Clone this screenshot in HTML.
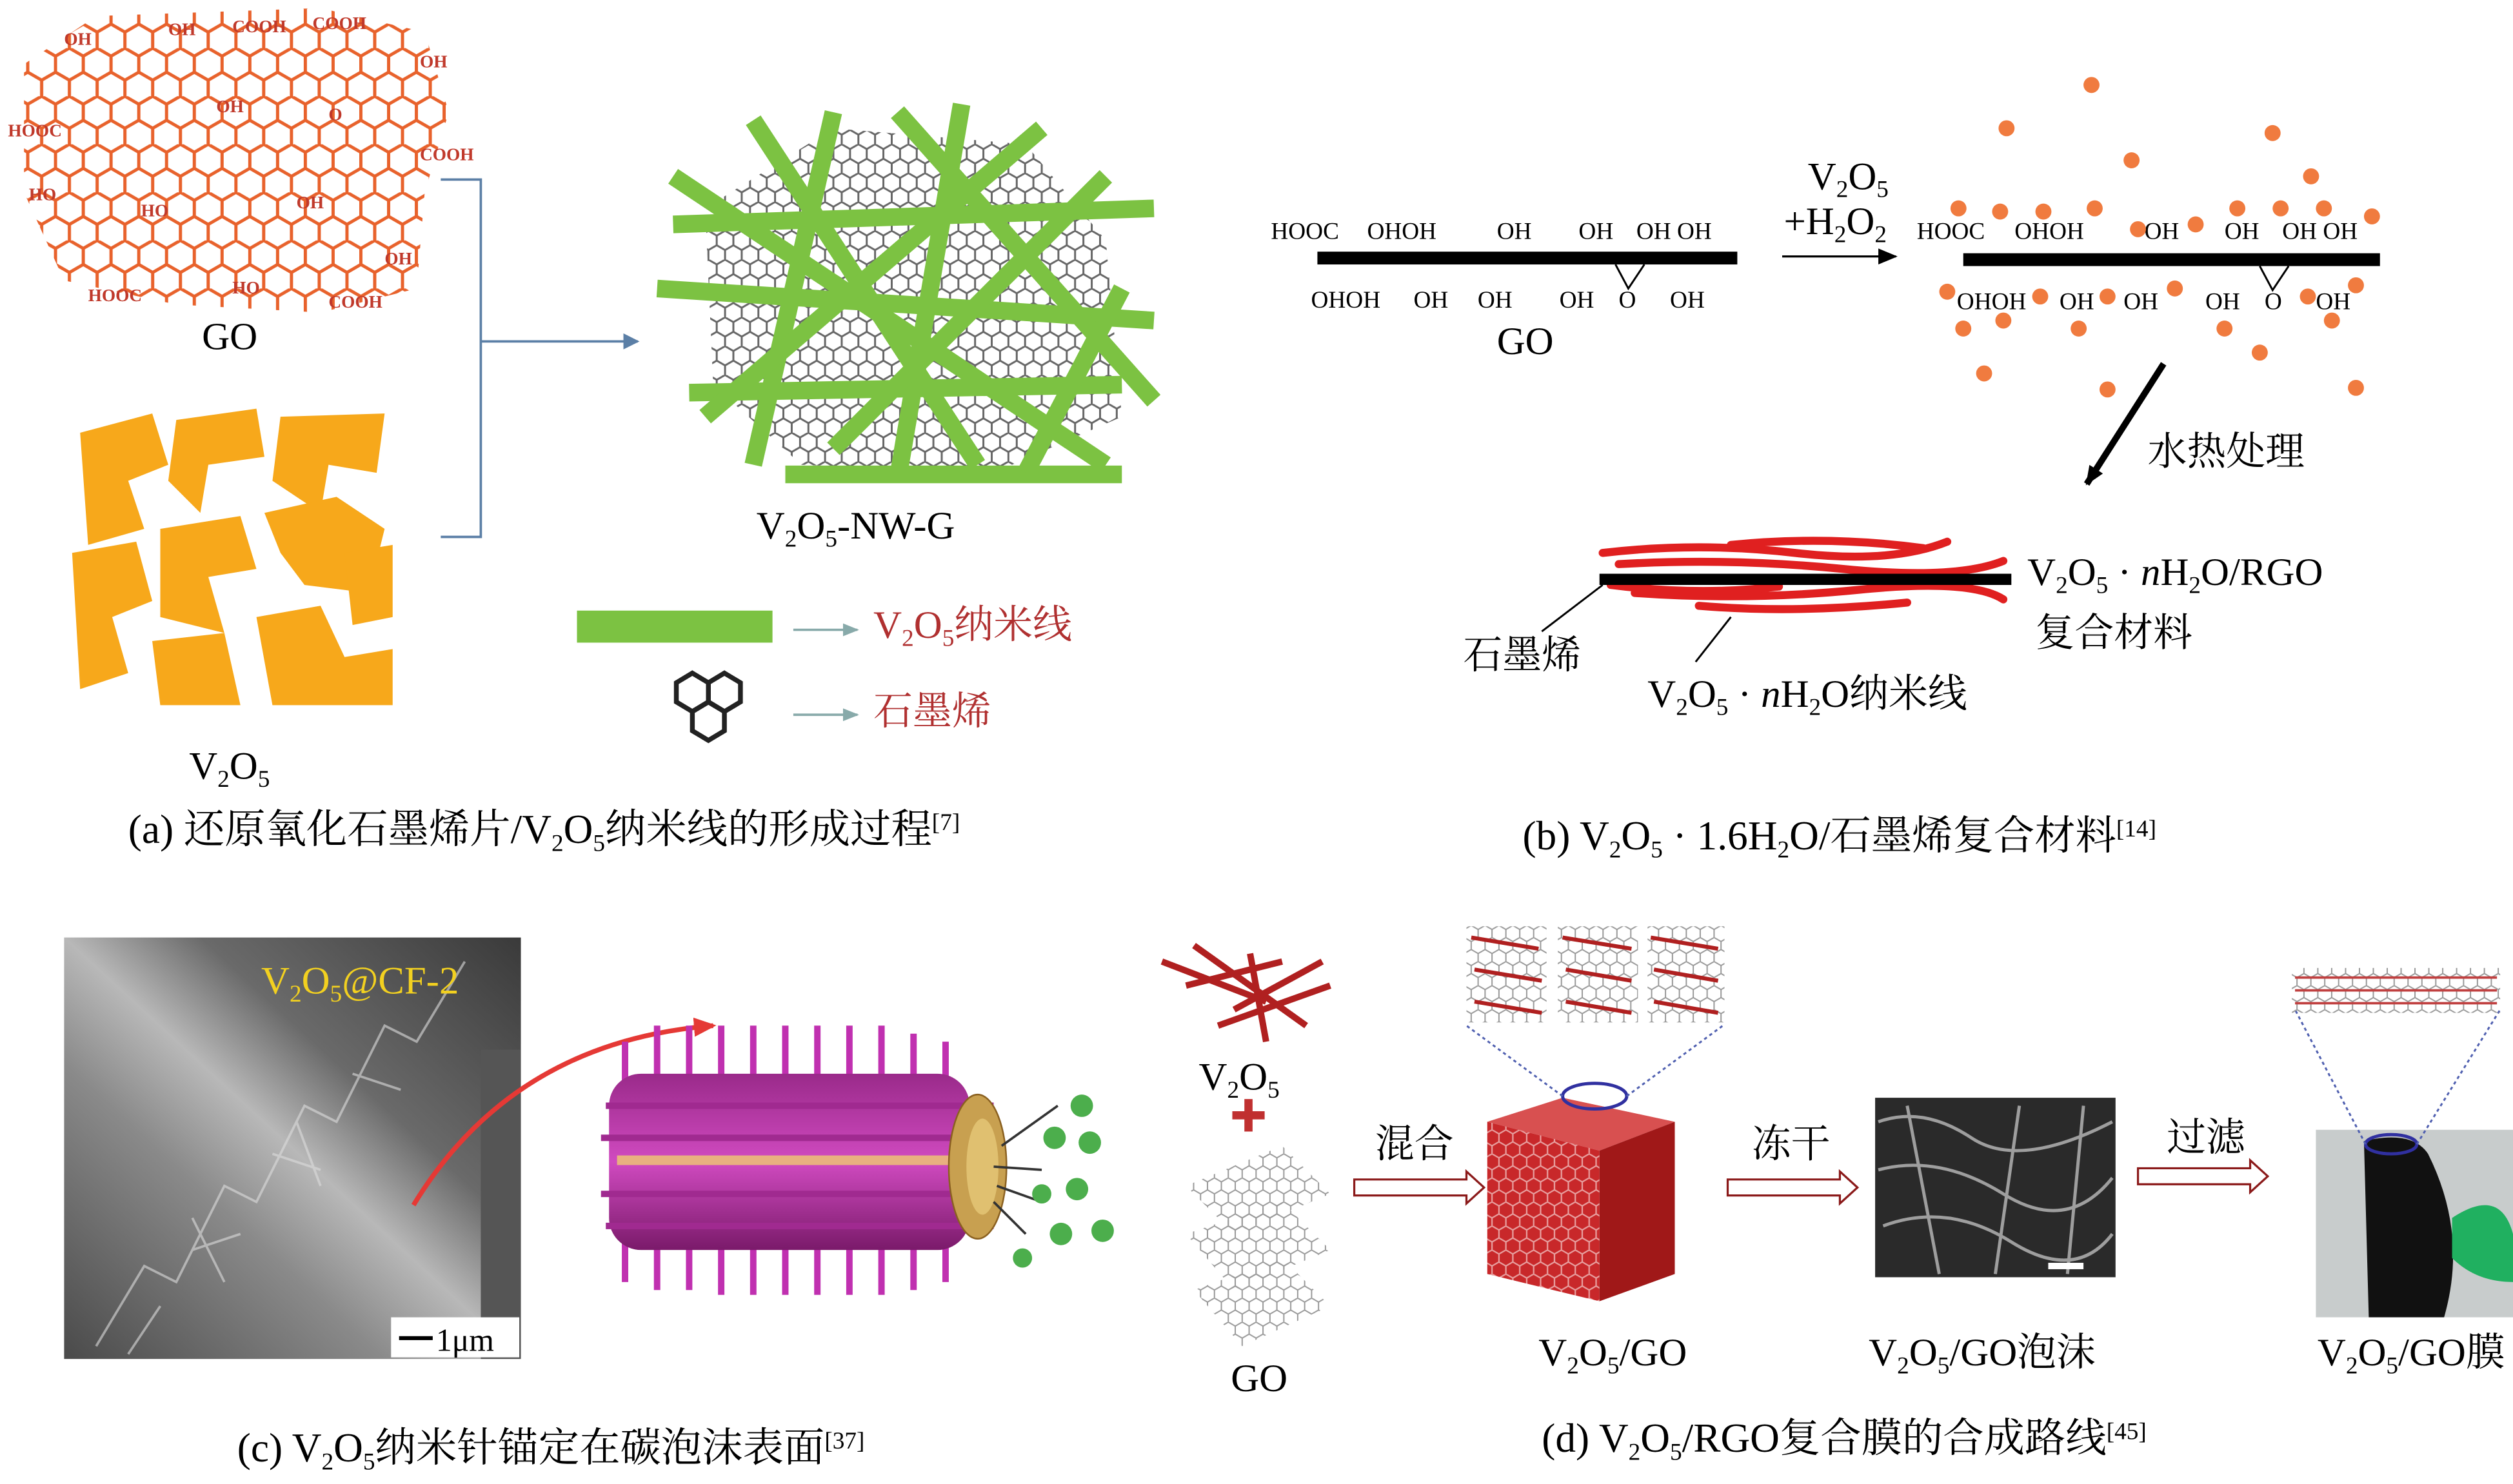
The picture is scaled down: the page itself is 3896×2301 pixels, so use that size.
<!DOCTYPE html>
<html><head><meta charset="utf-8">
<style>
html,body{margin:0;padding:0;background:#fff;}
svg{display:block;}
text{font-family:"Liberation Serif","Noto Serif CJK SC",serif;}
</style></head>
<body>
<svg width="3896" height="2301" viewBox="0 0 1568 926" xmlns="http://www.w3.org/2000/svg">
<defs>
 <pattern id="hexO" width="17.32" height="30" patternUnits="userSpaceOnUse">
  <path d="M8.66 0 L17.32 5 L17.32 15 L8.66 20 L0 15 L0 5 Z M8.66 20 L8.66 30" fill="none" stroke="#e8622c" stroke-width="2"/>
 </pattern>
 <pattern id="hexG" width="10.4" height="18" patternUnits="userSpaceOnUse">
  <path d="M5.2 0 L10.4 3 L10.4 9 L5.2 12 L0 9 L0 3 Z M5.2 12 L5.2 18" fill="none" stroke="#555" stroke-width="1.2"/>
 </pattern>
 <pattern id="hexL" width="8.66" height="15" patternUnits="userSpaceOnUse">
  <path d="M4.33 0 L8.66 2.5 L8.66 7.5 L4.33 10 L0 7.5 L0 2.5 Z M4.33 10 L4.33 15" fill="none" stroke="#999" stroke-width="0.8"/>
 </pattern>
 <pattern id="hexR" width="8.66" height="15" patternUnits="userSpaceOnUse">
  <rect width="8.66" height="15" fill="#c8282a"/>
  <path d="M4.33 0 L8.66 2.5 L8.66 7.5 L4.33 10 L0 7.5 L0 2.5 Z M4.33 10 L4.33 15" fill="none" stroke="#e8a0a0" stroke-width="0.9"/>
 </pattern>
 <linearGradient id="sem1" x1="0" y1="1" x2="1" y2="0">
  <stop offset="0" stop-color="#4a4a4a"/><stop offset="0.35" stop-color="#8a8a8a"/><stop offset="0.5" stop-color="#b8b8b8"/><stop offset="0.65" stop-color="#6a6a6a"/><stop offset="1" stop-color="#3a3a3a"/>
 </linearGradient>
 <linearGradient id="cyl" x1="0" y1="0" x2="0" y2="1">
  <stop offset="0" stop-color="#9a2a8a"/><stop offset="0.5" stop-color="#d04ac0"/><stop offset="1" stop-color="#7a1a6a"/>
 </linearGradient>
 <marker id="ah" markerWidth="10" markerHeight="10" refX="9" refY="5" orient="auto" markerUnits="userSpaceOnUse">
  <path d="M0 0 L10 5 L0 10 Z" fill="#5b7fa6"/></marker>
 <marker id="ahk" markerWidth="12" markerHeight="10" refX="11" refY="5" orient="auto" markerUnits="userSpaceOnUse">
  <path d="M0 0 L12 5 L0 10 Z" fill="#000"/></marker>
 <marker id="ahr" markerWidth="14" markerHeight="12" refX="12" refY="6" orient="auto" markerUnits="userSpaceOnUse">
  <path d="M0 0 L14 6 L0 12 Z" fill="#e53935"/></marker>
 <marker id="ahg" markerWidth="10" markerHeight="8" refX="9" refY="4" orient="auto" markerUnits="userSpaceOnUse">
  <path d="M0 0 L10 4 L0 8 Z" fill="#8aa"/></marker>
</defs>

<polygon points="15,40 60,10 200,5 265,20 280,70 265,120 260,180 200,195 110,190 40,175 15,120" fill="url(#hexO)"/>
<g font-family="Liberation Sans" font-size="11" fill="#c0392b" font-weight="bold">
<text x="40" y="28">OH</text><text x="105" y="22">OH</text><text x="145" y="20">COOH</text><text x="195" y="18">COOH</text>
<text x="262" y="42">OH</text><text x="5" y="85">HOOC</text><text x="262" y="100">COOH</text><text x="18" y="125">HO</text>
<text x="88" y="135">HO</text><text x="185" y="130">OH</text><text x="240" y="165">OH</text><text x="55" y="188">HOOC</text>
<text x="145" y="183">HO</text><text x="205" y="192">COOH</text><text x="135" y="70">OH</text><text x="205" y="75">O</text>
</g>
<text x="126" y="218" font-size="24">GO</text>

<g fill="#f7a81b">
<path d="M50 270 L95 258 L105 290 L80 300 L90 330 L55 340 Z"/>
<path d="M110 262 L160 255 L165 285 L130 290 L125 320 L105 300 Z"/>
<path d="M175 260 L240 258 L235 295 L205 290 L200 320 L170 300 Z"/>
<path d="M45 345 L85 338 L95 375 L70 385 L80 420 L50 430 Z"/>
<path d="M100 330 L150 322 L160 355 L130 360 L140 395 L100 385 Z"/>
<path d="M165 320 L210 310 L240 330 L230 370 L190 365 L175 345 Z"/>
<path d="M95 400 L140 395 L150 440 L100 440 Z"/>
<path d="M160 385 L200 378 L215 410 L245 405 L245 440 L170 440 Z"/>
<path d="M215 345 L245 340 L245 385 L220 390 Z"/>
</g>
<text x="118" y="486" font-size="24.5">V<tspan font-size="15" dy="5">2</tspan><tspan dy="-5">O</tspan><tspan font-size="15" dy="5">5</tspan></text>

<path d="M275 112 L300 112 L300 335 L275 335 M300 213 L398 213" stroke="#5b7fa6" stroke-width="1.5" fill="none" marker-end="url(#ah)"/>

<polygon points="440,130 520,80 640,90 690,150 700,260 620,295 500,290 445,240" fill="url(#hexG)" opacity="0.9"/>
<g stroke="#7cc242" stroke-width="11" stroke-linecap="butt">
<line x1="420" y1="110" x2="690" y2="290"/><line x1="410" y1="180" x2="720" y2="200"/><line x1="430" y1="245" x2="700" y2="240"/>
<line x1="470" y1="75" x2="610" y2="290"/><line x1="520" y1="70" x2="470" y2="290"/><line x1="600" y1="65" x2="560" y2="300"/>
<line x1="650" y1="80" x2="440" y2="260"/><line x1="690" y1="110" x2="520" y2="280"/><line x1="420" y1="140" x2="720" y2="130"/>
<line x1="490" y1="296" x2="700" y2="296"/><line x1="700" y1="180" x2="640" y2="295"/><line x1="560" y1="70" x2="720" y2="250"/>
</g>
<text x="472" y="336" font-size="24.5">V<tspan font-size="15" dy="5">2</tspan><tspan dy="-5">O</tspan><tspan font-size="15" dy="5">5</tspan><tspan dy="-5">-NW-G</tspan></text>

<rect x="360" y="381" width="122" height="20" fill="#7cc242"/>
<line x1="495" y1="393" x2="535" y2="393" stroke="#8aa" stroke-width="1.5" marker-end="url(#ahg)"/>
<text x="545" y="398" font-size="24.5" fill="#b03030">V<tspan font-size="15" dy="5">2</tspan><tspan dy="-5">O</tspan><tspan font-size="15" dy="5">5</tspan><tspan dy="-5">纳米线</tspan></text>
<g fill="none" stroke="#222" stroke-width="3">
<path d="M432 420 L442 426 L442 438 L432 444 L422 438 L422 426 Z"/>
<path d="M452 420 L462 426 L462 438 L452 444 L442 438 L442 426 Z"/>
<path d="M442 438 L452 444 L452 456 L442 462 L432 456 L432 444 Z"/>
</g>
<line x1="495" y1="446" x2="535" y2="446" stroke="#8aa" stroke-width="1.5" marker-end="url(#ahg)"/>
<text x="545" y="452" font-size="24.5" fill="#b03030">石墨烯</text>
<text x="80" y="526" font-size="25.5">(a) 还原氧化石墨烯片/V<tspan font-size="15" dy="5">2</tspan><tspan dy="-5">O</tspan><tspan font-size="15" dy="5">5</tspan><tspan dy="-5">纳米线的形成过程</tspan><tspan font-size="15" dy="-8">[7]</tspan></text>

<rect x="822" y="157" width="262" height="8" fill="#000"/>
<g font-size="15">
<text x="793" y="149">HOOC</text><text x="853" y="149">OHOH</text><text x="934" y="149">OH</text><text x="985" y="149">OH</text><text x="1021" y="149">OH OH</text>
<text x="818" y="192">OHOH</text><text x="882" y="192">OH</text><text x="922" y="192">OH</text><text x="973" y="192">OH</text><text x="1010" y="192">O</text><text x="1042" y="192">OH</text>
</g>
<path d="M1008 165 L1016 180 L1026 165" stroke="#000" fill="none" stroke-width="1.2"/>
<text x="934" y="221" font-size="24.5">GO</text>
<line x1="1112" y1="160" x2="1183" y2="160" stroke="#000" stroke-width="1.3" marker-end="url(#ahk)"/>
<text x="1128" y="118" font-size="24.5">V<tspan font-size="15" dy="5">2</tspan><tspan dy="-5">O</tspan><tspan font-size="15" dy="5">5</tspan></text>
<text x="1113" y="146" font-size="24.5">+H<tspan font-size="15" dy="5">2</tspan><tspan dy="-5">O</tspan><tspan font-size="15" dy="5">2</tspan></text>

<rect x="1225" y="158" width="260" height="8" fill="#000"/>
<g font-size="15">
<text x="1196" y="149">HOOC</text><text x="1257" y="149">OHOH</text><text x="1338" y="149">OH</text><text x="1388" y="149">OH</text><text x="1424" y="149">OH OH</text>
<text x="1221" y="193">OHOH</text><text x="1285" y="193">OH</text><text x="1325" y="193">OH</text><text x="1376" y="193">OH</text><text x="1413" y="193">O</text><text x="1445" y="193">OH</text>
</g>
<path d="M1410 166 L1418 181 L1428 166" stroke="#000" fill="none" stroke-width="1.2"/>
<g fill="#f07b3f">
<circle cx="1305" cy="53" r="5"/><circle cx="1252" cy="80" r="5"/><circle cx="1330" cy="100" r="5"/><circle cx="1418" cy="83" r="5"/><circle cx="1442" cy="110" r="5"/>
<circle cx="1222" cy="130" r="5"/><circle cx="1248" cy="132" r="5"/><circle cx="1275" cy="132" r="5"/><circle cx="1307" cy="130" r="5"/><circle cx="1334" cy="143" r="5"/>
<circle cx="1396" cy="130" r="5"/><circle cx="1423" cy="130" r="5"/><circle cx="1450" cy="130" r="5"/><circle cx="1480" cy="135" r="5"/><circle cx="1370" cy="140" r="5"/>
<circle cx="1215" cy="182" r="5"/><circle cx="1273" cy="185" r="5"/><circle cx="1315" cy="185" r="5"/><circle cx="1357" cy="180" r="5"/><circle cx="1440" cy="185" r="5"/>
<circle cx="1470" cy="178" r="5"/><circle cx="1225" cy="205" r="5"/><circle cx="1250" cy="200" r="5"/><circle cx="1297" cy="205" r="5"/><circle cx="1388" cy="205" r="5"/>
<circle cx="1455" cy="200" r="5"/><circle cx="1238" cy="233" r="5"/><circle cx="1315" cy="243" r="5"/><circle cx="1410" cy="220" r="5"/><circle cx="1470" cy="242" r="5"/>
</g>
<line x1="1350" y1="227" x2="1302" y2="302" stroke="#000" stroke-width="4" marker-end="url(#ahk)"/>
<text x="1340" y="290" font-size="24.5">水热处理</text>
<g stroke="#e02020" stroke-width="5" fill="none" stroke-linecap="round">
<path d="M1000 345 Q1060 338 1120 345 T1215 338"/><path d="M1010 352 Q1080 348 1150 355 T1250 350"/>
<path d="M1020 370 Q1090 375 1160 368 T1250 374"/><path d="M1060 378 Q1120 383 1190 376"/>
<path d="M1005 365 Q1060 372 1110 366"/><path d="M1080 340 Q1140 334 1200 342"/>
</g>
<rect x="998" y="358" width="257" height="7" fill="#000"/>
<text x="1265" y="365" font-size="24.5">V<tspan font-size="15" dy="5">2</tspan><tspan dy="-5">O</tspan><tspan font-size="15" dy="5">5</tspan><tspan dy="-5"> · </tspan><tspan font-style="italic">n</tspan><tspan>H</tspan><tspan font-size="15" dy="5">2</tspan><tspan dy="-5">O/RGO</tspan></text>
<text x="1270" y="403" font-size="24.5">复合材料</text>
<line x1="962" y1="394" x2="1000" y2="365" stroke="#000" stroke-width="1.2"/>
<text x="913" y="417" font-size="24.5">石墨烯</text>
<line x1="1058" y1="413" x2="1080" y2="385" stroke="#000" stroke-width="1.2"/>
<text x="1028" y="441" font-size="24.5">V<tspan font-size="15" dy="5">2</tspan><tspan dy="-5">O</tspan><tspan font-size="15" dy="5">5</tspan><tspan dy="-5"> · </tspan><tspan font-style="italic">n</tspan><tspan>H</tspan><tspan font-size="15" dy="5">2</tspan><tspan dy="-5">O纳米线</tspan></text>
<text x="950" y="530" font-size="25.5">(b) V<tspan font-size="15" dy="5">2</tspan><tspan dy="-5">O</tspan><tspan font-size="15" dy="5">5</tspan><tspan dy="-5"> · 1.6H</tspan><tspan font-size="15" dy="5">2</tspan><tspan dy="-5">O/石墨烯复合材料</tspan><tspan font-size="15" dy="-8">[14]</tspan></text>

<rect x="40" y="585" width="285" height="263" fill="url(#sem1)"/>
<g stroke="#ddd" stroke-width="1.5" opacity="0.6" fill="none">
<path d="M60 840 L90 790 L110 800 L140 740 L160 750 L190 690 L210 700 L240 640 L260 650 L290 600"/>
<path d="M80 845 L100 815 M120 780 L150 770 M170 720 L200 730 M220 670 L250 680 M140 800 L120 760 M200 740 L185 700"/>
</g>
<rect x="300" y="655" width="25" height="193" fill="#555"/>
<text x="163" y="620" font-size="24.5" fill="#f2d020">V<tspan font-size="15" dy="5">2</tspan><tspan dy="-5">O</tspan><tspan font-size="15" dy="5">5</tspan><tspan dy="-5">@CF-2</tspan></text>
<rect x="244" y="822" width="80" height="25" fill="#fff"/>
<line x1="249" y1="835" x2="270" y2="835" stroke="#000" stroke-width="2.5"/>
<text x="272" y="843" font-size="20">1μm</text>
<path d="M258 752 Q320 650 445 640" stroke="#e53935" stroke-width="3" fill="none" marker-end="url(#ahr)"/>
<g stroke="#c030b0" stroke-width="4">
<line x1="390" y1="650" x2="390" y2="800"/><line x1="410" y1="640" x2="410" y2="805"/><line x1="430" y1="640" x2="430" y2="805"/><line x1="450" y1="640" x2="450" y2="808"/>
<line x1="470" y1="640" x2="470" y2="808"/><line x1="490" y1="640" x2="490" y2="808"/><line x1="510" y1="640" x2="510" y2="808"/><line x1="530" y1="640" x2="530" y2="808"/>
<line x1="550" y1="640" x2="550" y2="808"/><line x1="570" y1="645" x2="570" y2="805"/><line x1="590" y1="650" x2="590" y2="800"/>
</g>
<rect x="380" y="670" width="225" height="110" rx="20" fill="url(#cyl)"/>
<g stroke="#a02a90" stroke-width="4">
<line x1="378" y1="690" x2="620" y2="690"/><line x1="375" y1="710" x2="625" y2="710"/><line x1="375" y1="745" x2="625" y2="745"/><line x1="378" y1="765" x2="620" y2="765"/>
</g>
<rect x="385" y="721" width="220" height="6" fill="#e8b080"/>
<ellipse cx="610" cy="728" rx="18" ry="45" fill="#c8a050" stroke="#8a6020"/>
<ellipse cx="613" cy="728" rx="10" ry="30" fill="#e0c070"/>
<g stroke="#333" stroke-width="1.5">
<line x1="660" y1="690" x2="625" y2="715"/><line x1="650" y1="730" x2="620" y2="728"/><line x1="650" y1="750" x2="622" y2="740"/><line x1="640" y1="770" x2="620" y2="750"/>
</g>
<g fill="#4cae4c">
<circle cx="675" cy="690" r="7"/><circle cx="658" cy="710" r="7"/><circle cx="680" cy="713" r="7"/><circle cx="672" cy="742" r="7"/>
<circle cx="650" cy="745" r="6"/><circle cx="662" cy="770" r="7"/><circle cx="688" cy="768" r="7"/><circle cx="638" cy="785" r="6"/>
</g>
<text x="148" y="912" font-size="25.5">(c) V<tspan font-size="15" dy="5">2</tspan><tspan dy="-5">O</tspan><tspan font-size="15" dy="5">5</tspan><tspan dy="-5">纳米针锚定在碳泡沫表面</tspan><tspan font-size="15" dy="-8">[37]</tspan></text>

<g stroke="#b02020" stroke-width="4">
<line x1="725" y1="600" x2="790" y2="625"/><line x1="740" y1="615" x2="800" y2="600"/><line x1="760" y1="640" x2="830" y2="615"/>
<line x1="745" y1="590" x2="815" y2="640"/><line x1="780" y1="595" x2="790" y2="650"/><line x1="770" y1="630" x2="825" y2="600"/>
</g>
<text x="748" y="680" font-size="24.5">V<tspan font-size="15" dy="5">2</tspan><tspan dy="-5">O</tspan><tspan font-size="15" dy="5">5</tspan></text>
<text x="767" y="705" font-size="24" fill="#c03030">✚</text>
<polygon points="740,740 800,715 830,745 770,770" fill="url(#hexL)"/>
<polygon points="740,770 800,750 830,780 770,805" fill="url(#hexL)"/>
<polygon points="745,805 800,785 830,815 775,840" fill="url(#hexL)"/>
<text x="768" y="868" font-size="24.5">GO</text>
<g fill="none" stroke="#8b1a1a" stroke-width="1.3">
<path d="M845 736 L915 736 L915 731 L926 741 L915 751 L915 746 L845 746 Z"/>
<path d="M1078 736 L1148 736 L1148 731 L1159 741 L1148 751 L1148 746 L1078 746 Z"/>
<path d="M1334 729 L1404 729 L1404 724 L1415 734 L1404 744 L1404 739 L1334 739 Z"/>
</g>
<text x="858" y="722" font-size="24.5">混合</text>
<text x="1093" y="722" font-size="24.5">冻干</text>
<text x="1352" y="718" font-size="24.5">过滤</text>
<polygon points="928,700 975,685 1045,700 998,718" fill="#d85050"/>
<polygon points="928,700 998,718 998,812 928,795" fill="url(#hexR)"/>
<polygon points="998,718 1045,700 1045,795 998,812" fill="#a01818"/>
<ellipse cx="995" cy="684" rx="20" ry="8" fill="none" stroke="#3030a0" stroke-width="2"/>
<g stroke="#5060b0" stroke-width="1.2" stroke-dasharray="2,2">
<line x1="975" y1="684" x2="915" y2="640"/><line x1="1015" y1="684" x2="1075" y2="640"/>
</g>
<g>
<rect x="915" y="578" width="50" height="60" fill="url(#hexL)"/><rect x="972" y="578" width="50" height="60" fill="url(#hexL)"/><rect x="1028" y="578" width="48" height="60" fill="url(#hexL)"/>
<g stroke="#b02020" stroke-width="2.5">
<line x1="918" y1="585" x2="960" y2="592"/><line x1="920" y1="605" x2="962" y2="612"/><line x1="920" y1="625" x2="962" y2="632"/>
<line x1="975" y1="585" x2="1018" y2="592"/><line x1="977" y1="605" x2="1018" y2="612"/><line x1="977" y1="625" x2="1018" y2="632"/>
<line x1="1030" y1="585" x2="1072" y2="592"/><line x1="1032" y1="605" x2="1072" y2="612"/><line x1="1032" y1="625" x2="1072" y2="632"/>
</g></g>
<text x="960" y="852" font-size="24.5">V<tspan font-size="15" dy="5">2</tspan><tspan dy="-5">O</tspan><tspan font-size="15" dy="5">5</tspan><tspan dy="-5">/GO</tspan></text>
<rect x="1170" y="685" width="150" height="112" fill="#2a2a2a"/>
<g stroke="#bbb" stroke-width="2" fill="none" opacity="0.8">
<path d="M1172 700 Q1200 690 1230 710 T1318 700"/><path d="M1172 730 Q1210 720 1250 745 T1318 735"/>
<path d="M1175 765 Q1215 750 1255 775 T1318 770"/><path d="M1190 690 L1210 795"/><path d="M1260 690 L1245 795"/><path d="M1300 690 L1290 795"/>
</g>
<rect x="1278" y="788" width="22" height="4" fill="#fff"/>
<text x="1166" y="852" font-size="24.5">V<tspan font-size="15" dy="5">2</tspan><tspan dy="-5">O</tspan><tspan font-size="15" dy="5">5</tspan><tspan dy="-5">/GO泡沫</tspan></text>
<rect x="1445" y="705" width="123" height="117" fill="#c8cccc"/>
<path d="M1475 712 Q1505 705 1515 720 Q1540 770 1525 822 L1478 822 Z" fill="#111"/>
<path d="M1530 760 Q1560 740 1568 770 L1568 800 Q1545 800 1530 785 Z" fill="#20b060"/>
<ellipse cx="1492" cy="714" rx="16" ry="6" fill="none" stroke="#3030a0" stroke-width="2"/>
<g stroke="#5060b0" stroke-width="1.2" stroke-dasharray="2,2">
<line x1="1476" y1="714" x2="1432" y2="630"/><line x1="1508" y1="714" x2="1560" y2="630"/>
</g>
<rect x="1430" y="604" width="130" height="28" fill="url(#hexL)"/>
<g stroke="#c04040" stroke-width="1.5"><line x1="1432" y1="610" x2="1558" y2="610"/><line x1="1432" y1="618" x2="1558" y2="618"/><line x1="1432" y1="626" x2="1558" y2="626"/></g>
<text x="1446" y="852" font-size="24.5">V<tspan font-size="15" dy="5">2</tspan><tspan dy="-5">O</tspan><tspan font-size="15" dy="5">5</tspan><tspan dy="-5">/GO膜</tspan></text>
<text x="962" y="906" font-size="25.5">(d) V<tspan font-size="15" dy="5">2</tspan><tspan dy="-5">O</tspan><tspan font-size="15" dy="5">5</tspan><tspan dy="-5">/RGO复合膜的合成路线</tspan><tspan font-size="15" dy="-8">[45]</tspan></text>
</svg>
</body></html>
